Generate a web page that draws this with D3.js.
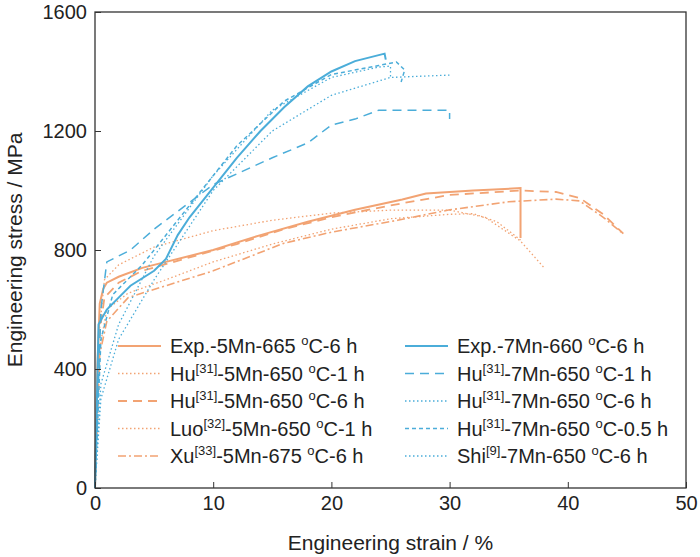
<!DOCTYPE html>
<html><head><meta charset="utf-8">
<script src="https://cdn.jsdelivr.net/npm/d3@7"></script>
<style>body{margin:0;background:#fff}text{font-family:"Liberation Sans",Arial,sans-serif;fill:#222}</style>
</head><body><svg id="c" width="700" height="557"></svg>
<script>
const orange = '#f2a373', blue = '#4badd9';
const xTicks = [0, 10, 20, 30, 40, 50];
const yTicks = [0, 400, 800, 1200, 1600];

const exp5 = [[0,0],[0.2,400],[0.4,620],[0.7,670],[1,690],[2,710],[4,740],[6,760],[8,780],[10,800],[14,850],[18,895],[22,935],[26,970],[28,990],[32,1000],[36,1008],[36,840]];
const hu5_1 = [[0,0],[0.3,500],[0.8,700],[2,750],[5,810],[10,865],[15,900],[20,924],[25,934],[30,934],[33,910],[36,830],[38,740]];
const hu5_6 = [[0,0],[0.3,500],[0.8,640],[2,690],[4,730],[8,775],[12,820],[16,870],[20,910],[25,950],[30,985],[36,1000],[39,995],[41,975],[43,920],[44.7,855]];
const luo5 = [[0,0],[0.3,450],[1,600],[2.8,655],[6,700],[10,760],[15,820],[20,870],[25,905],[30,920],[32,922],[34,895],[36,834]];
const xu5 = [[0,0],[0.4,450],[1,560],[2.8,640],[6,680],[10,730],[16,823],[20,860],[25.6,900],[30,935],[35,962],[39,971],[41,965],[43,910],[44.5,860]];
const exp7 = [[0,0],[0.3,550],[1,600],[2,640],[3,680],[5,730],[6,770],[7,850],[8,910],[10,1010],[12,1110],[14,1200],[16,1280],[18,1350],[20,1400],[22,1435],[24.5,1460],[24.6,1440]];
const hu7_1 = [[0,0],[0.5,600],[1,760],[3,800],[5,870],[8,960],[10,1020],[15,1110],[18,1160],[20,1220],[22,1240],[24,1270],[30,1270],[30,1240]];
const hu7_6 = [[0,0],[0.5,350],[2,550],[5,780],[10,1050],[15,1270],[20,1380],[24,1415],[25,1418],[25,1380]];
const hu7_05 = [[0,0],[0.5,500],[1.5,650],[4,750],[8,950],[12,1150],[16,1300],[20,1390],[24,1420],[25.5,1432],[26.2,1405],[25.9,1365]];
const shi7 = [[0,0],[0.5,300],[2,500],[5,700],[10,1000],[15,1200],[20,1320],[25,1380],[30,1388]];

const series = [
  {pre:'Exp.', sup:null, tail:'-5Mn-665 ', rest:'C-6 h', data:exp5, color:orange, dash:null, w:2},
  {pre:'Hu', sup:'[31]', tail:'-5Mn-650 ', rest:'C-1 h', data:hu5_1, color:orange, dash:'1.5,2.5', w:1.3},
  {pre:'Hu', sup:'[31]', tail:'-5Mn-650 ', rest:'C-6 h', data:hu5_6, color:orange, dash:'9,6', w:1.8},
  {pre:'Luo', sup:'[32]', tail:'-5Mn-650 ', rest:'C-1 h', data:luo5, color:orange, dash:'1.5,2.5', w:1.3},
  {pre:'Xu', sup:'[33]', tail:'-5Mn-675 ', rest:'C-6 h', data:xu5, color:orange, dash:'8,3,2,3', w:1.6},
  {pre:'Exp.', sup:null, tail:'-7Mn-660 ', rest:'C-6 h', data:exp7, color:blue, dash:null, w:2},
  {pre:'Hu', sup:'[31]', tail:'-7Mn-650 ', rest:'C-1 h', data:hu7_1, color:blue, dash:'9,6', w:1.5},
  {pre:'Hu', sup:'[31]', tail:'-7Mn-650 ', rest:'C-6 h', data:hu7_6, color:blue, dash:'1.5,2.5', w:1.3},
  {pre:'Hu', sup:'[31]', tail:'-7Mn-650 ', rest:'C-0.5 h', data:hu7_05, color:blue, dash:'4,3', w:1.5},
  {pre:'Shi', sup:'[9]', tail:'-7Mn-650 ', rest:'C-6 h', data:shi7, color:blue, dash:'1.5,2.5', w:1.3}
];

const svg = d3.select('#c');
const L = 95, R = 686, T = 12, B = 488;
const x = d3.scaleLinear().domain([0, 50]).range([L, R]);
const y = d3.scaleLinear().domain([0, 1600]).range([B, T]);

const lineLin = d3.line().x(d => x(d[0])).y(d => y(d[1]));

series.forEach(s => {
  svg.append('path').attr('d', lineLin(s.data)).attr('fill', 'none')
    .attr('stroke', s.color).attr('stroke-width', s.w)
    .attr('stroke-dasharray', s.dash);
});

svg.append('rect').attr('x', L).attr('y', T).attr('width', R - L).attr('height', B - T)
  .attr('fill', 'none').attr('stroke', '#333').attr('stroke-width', 1.3);
svg.append('g').attr('transform', `translate(0,${B})`)
  .call(d3.axisBottom(x).tickValues(xTicks).tickFormat(d3.format('d')).tickSize(-6).tickPadding(8))
  .call(g => { g.select('.domain').remove(); g.selectAll('text').attr('font-size', 20).attr('fill', '#222'); g.selectAll('line').attr('stroke', '#333'); });
svg.append('g').attr('transform', `translate(${L},0)`)
  .call(d3.axisLeft(y).tickValues(yTicks).tickFormat(d3.format('d')).tickSize(-6).tickPadding(8))
  .call(g => { g.select('.domain').remove(); g.selectAll('text').attr('font-size', 20).attr('fill', '#222'); g.selectAll('line').attr('stroke', '#333'); });

svg.append('text').attr('x', (L + R) / 2).attr('y', 550).attr('text-anchor', 'middle')
  .attr('font-size', 21).text('Engineering strain / %');
svg.append('text').attr('transform', `translate(22,${(T + B) / 2}) rotate(-90)`)
  .attr('text-anchor', 'middle').attr('font-size', 21).text('Engineering stress / MPa');

// legend
series.forEach((s, i) => {
  const col = i < 5 ? 0 : 1, row = i % 5;
  const lx = col ? 405 : 118, ly = 346 + row * 27.5;
  svg.append('line').attr('x1', lx).attr('x2', lx + 43).attr('y1', ly).attr('y2', ly)
    .attr('stroke', s.color).attr('stroke-width', s.w).attr('stroke-dasharray', s.dash);
  const t = svg.append('text').attr('x', lx + 52).attr('y', ly + 7).attr('font-size', 20);
  t.append('tspan').text(s.pre);
  if (s.sup) t.append('tspan').attr('font-size', 13).attr('dy', -8).text(s.sup);
  t.append('tspan').attr('dy', s.sup ? 8 : 0).text(s.tail);
  t.append('tspan').attr('font-size', 13).attr('dy', -8).text('o');
  t.append('tspan').attr('dy', 8).text(s.rest);
});
</script></body></html>
